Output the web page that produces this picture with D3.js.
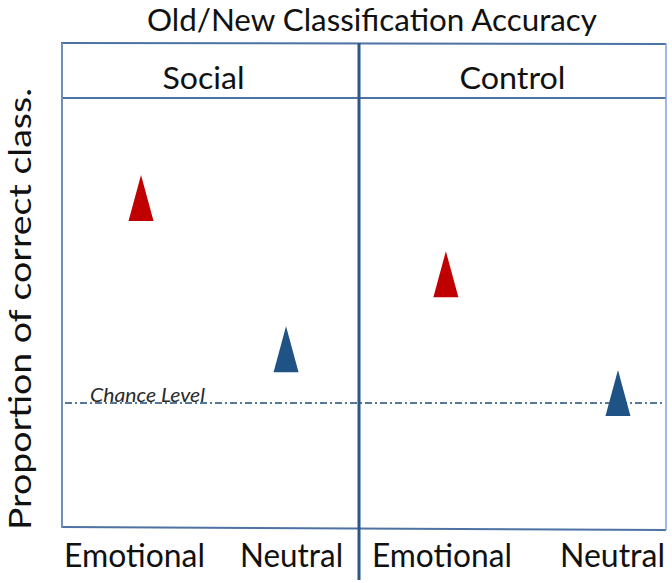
<!DOCTYPE html>
<html>
<head>
<meta charset="utf-8">
<script src="https://cdn.jsdelivr.net/npm/d3@7"></script>
<style>
  html, body { margin: 0; padding: 0; background: #fff; }
  svg { display: block; }
  text { font-family: Lato, "Open Sans", sans-serif; fill: #111; }
</style>
</head>
<body>
<svg id="chart" width="672" height="583"></svg>
<script>
// ---- data ----
const chartTitle = "Old/New Classification Accuracy";
const yAxisLabel = "Proportion of correct class.";
const panels = ["Social", "Control"];
const conditions = ["Emotional", "Neutral"];
const socialValues = [0.664, 0.543];
const controlValues = [0.603, 0.508];
const chanceLevel = 0.5;
const chanceLabel = "Chance Level";

// ---- layout / style ----
const box = { left: 62, mid: 359, right: 666, top: 43, header: 98, bottom: 528 };
const colors = { Emotional: "#c00000", Neutral: "#1f5285" };
const valuesByPanel = { Social: socialValues, Control: controlValues };
const panelRange = { Social: [box.left, box.mid], Control: [box.mid, box.right] };
const panelPointOpts = { Social: { padding: 0.524, align: 0.52 }, Control: { padding: 0.392, align: 0.644 } };
const labelShift = { Social: [-6.5, 5.5], Control: [-4, -5.5] };
const labelWidths = { Social: [141, 103], Control: [140, 105] };
const triW = 25, triH = 46;

const svg = d3.select("#chart");

const y = d3.scaleLinear().domain([0.4, 0.744]).range([box.bottom, box.header]);

const xScales = {};
panels.forEach(p => {
  xScales[p] = d3.scalePoint().domain(conditions).range(panelRange[p])
    .padding(panelPointOpts[p].padding).align(panelPointOpts[p].align);
});

function fit(sel, w) {
  sel.attr("textLength", w).attr("lengthAdjust", "spacingAndGlyphs");
}

// Title
svg.append("text").attr("x", 372).attr("y", 31).attr("text-anchor", "middle")
  .style("font-size", "30px").text(chartTitle).call(fit, 450);

// Y label
svg.append("text").attr("transform", "translate(31,309) rotate(-90)")
  .attr("text-anchor", "middle").style("font-size", "31px").text(yAxisLabel).call(fit, 442);

// Box lines
const g = svg.append("g");
const boxColor = "#4d72a3";
g.append("line").attr("x1", box.left - 1).attr("x2", box.right).attr("y1", box.top).attr("y2", box.top + 1)
  .attr("stroke", boxColor).attr("stroke-width", 2);
g.append("line").attr("x1", box.left).attr("x2", box.right).attr("y1", box.header).attr("y2", box.header)
  .attr("stroke", boxColor).attr("stroke-width", 2);
g.append("line").attr("x1", box.left).attr("x2", box.right).attr("y1", box.bottom - 1).attr("y2", box.bottom + 2)
  .attr("stroke", boxColor).attr("stroke-width", 2);
g.append("line").attr("x1", box.left).attr("x2", box.left).attr("y1", box.top).attr("y2", box.bottom)
  .attr("stroke", "#6f8fbd").attr("stroke-width", 2);
g.append("line").attr("x1", box.right).attr("x2", box.right).attr("y1", box.top).attr("y2", box.bottom + 2)
  .attr("stroke", "#7f9fe0").attr("stroke-width", 1.5);

// Chance level line
svg.append("line").attr("x1", box.left + 3).attr("x2", box.right - 4)
  .attr("y1", y(chanceLevel)).attr("y2", y(chanceLevel))
  .attr("stroke", "#1f4e79").attr("stroke-width", 1.5).attr("stroke-dasharray", "7,3,2,3");
svg.append("text").attr("x", 90).attr("y", y(chanceLevel) - 1)
  .style("font-size", "19px").style("font-style", "italic").style("fill", "#2a2a2a")
  .text(chanceLabel).call(fit, 115);

// Divider
svg.append("line").attr("x1", box.mid).attr("x2", box.mid).attr("y1", box.top).attr("y2", 580)
  .attr("stroke", "#2b5688").attr("stroke-width", 3);

// Panel headers
panels.forEach(p => {
  const [a, b] = panelRange[p];
  svg.append("text").attr("x", (a + b) / 2 + (p === "Social" ? -7 : 0)).attr("y", 89)
    .attr("text-anchor", "middle").style("font-size", "30px").text(p)
    .call(fit, p === "Social" ? 82 : 106);
});

// Triangles & x labels
panels.forEach(p => {
  const xs = xScales[p];
  conditions.forEach((c, i) => {
    const cx = xs(c), cy = y(valuesByPanel[p][i]);
    const path = d3.path();
    path.moveTo(cx, cy - triH / 2);
    path.lineTo(cx + triW / 2, cy + triH / 2);
    path.lineTo(cx - triW / 2, cy + triH / 2);
    path.closePath();
    svg.append("path").attr("d", path.toString()).attr("fill", colors[c]);
    svg.append("text").attr("x", cx + labelShift[p][i]).attr("y", 567)
      .attr("text-anchor", "middle").style("font-size", "32px").text(c)
      .call(fit, labelWidths[p][i]);
  });
});
</script>
</body>
</html>
